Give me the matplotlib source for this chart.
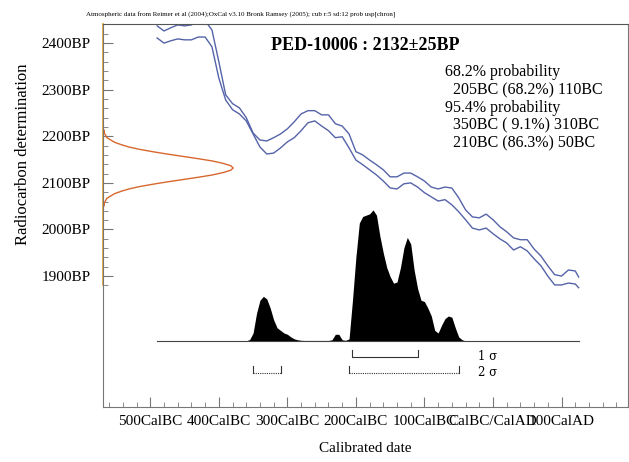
import matplotlib.pyplot as plt

plt.rcParams['font.family'] = ['Liberation Serif', 'DejaVu Serif']

# Calibration curve (year: negative = BC), upper and lower bounds in BP
cal_years = [-490, -480, -470, -460, -450, -440, -430, -420, -410, -400,
             -390, -380, -370, -360, -350, -340, -330, -320, -310, -300,
             -290, -280, -270, -260, -250, -240, -230, -220, -210, -200,
             -190, -180, -170, -160, -150, -140, -130, -120, -110, -100,
             -90, -80, -70, -60, -50, -40, -30, -20, -10, 0,
             10, 20, 30, 40, 50, 60, 70, 80, 90, 100, 110, 120, 125]
cal_upper = [2437, 2426, 2433, 2439, 2437, 2439, 2448, 2448, 2428, 2360,
             2289, 2270, 2261, 2240, 2207, 2192, 2190, 2197, 2205, 2216,
             2231, 2248, 2255, 2255, 2246, 2246, 2227, 2222, 2205, 2167,
             2160, 2149, 2139, 2128, 2113, 2113, 2121, 2121, 2113, 2104,
             2091, 2087, 2091, 2089, 2068, 2042, 2027, 2025, 2033, 2021,
             2006, 1995, 1982, 1978, 1978, 1958, 1943, 1922, 1903, 1900,
             1913, 1911, 1898]
cal_lower = [2411, 2400, 2405, 2409, 2407, 2407, 2413, 2413, 2392, 2325,
             2278, 2257, 2248, 2233, 2205, 2177, 2162, 2164, 2175, 2188,
             2197, 2212, 2229, 2233, 2222, 2212, 2197, 2199, 2175, 2149,
             2139, 2128, 2117, 2104, 2089, 2087, 2098, 2100, 2091, 2079,
             2070, 2061, 2064, 2053, 2038, 2021, 2003, 1999, 2003, 1991,
             1980, 1971, 1956, 1963, 1954, 1937, 1922, 1900, 1881, 1881,
             1885, 1883, 1875]

# Measured radiocarbon date 2132 +/- 25 BP (relative probability)
c14_bp = [2042, 2047, 2052, 2057, 2062, 2067, 2072, 2077, 2082, 2087,
          2092, 2097, 2102, 2107, 2112, 2117, 2122, 2127, 2132, 2137,
          2142, 2147, 2152, 2157, 2162, 2167, 2172, 2177, 2182, 2187,
          2192, 2197, 2202, 2207, 2212, 2217, 2222]
c14_prob = [0.0, 0.0, 0.01, 0.01, 0.02, 0.03, 0.06, 0.09, 0.14, 0.20,
            0.28, 0.38, 0.49, 0.61, 0.73, 0.84, 0.92, 0.98, 1.0, 0.98,
            0.92, 0.84, 0.73, 0.61, 0.49, 0.38, 0.28, 0.20, 0.14, 0.09,
            0.06, 0.03, 0.02, 0.01, 0.01, 0.0, 0.0]

# Calibrated date distribution (relative probability)
dist_years = [-370, -365, -360, -355, -350, -345, -340, -335, -330, -325,
              -320, -315, -310, -305, -300, -295, -290, -285, -280, -275,
              -270, -265, -260, -255, -250, -245, -240, -235, -230, -225,
              -220, -215, -210, -205, -200, -195, -190, -185, -180, -175,
              -170, -165, -160, -155, -150, -145, -140, -135, -130, -125,
              -120, -115, -110, -105, -100, -95, -90, -85, -80, -75,
              -70, -65, -60, -55, -50, -45, -40]
dist_prob = [0.0, 0.0, 0.0, 0.01, 0.06, 0.21, 0.31, 0.34, 0.32, 0.25,
             0.16, 0.10, 0.08, 0.06, 0.05, 0.03, 0.015, 0.008, 0.004, 0.003,
             0.003, 0.003, 0.003, 0.003, 0.003, 0.003, 0.003, 0.008, 0.05, 0.05,
             0.008, 0.004, 0.015, 0.31, 0.64, 0.90, 0.95, 0.96, 0.97, 1.0,
             0.96, 0.80, 0.67, 0.56, 0.49, 0.44, 0.45, 0.56, 0.71, 0.79,
             0.74, 0.54, 0.40, 0.31, 0.30, 0.25, 0.19, 0.08, 0.06, 0.12,
             0.17, 0.19, 0.18, 0.10, 0.03, 0.008, 0.0]

one_sigma = [(-205, -110)]
two_sigma = [(-350, -310), (-210, -50)]

year_ticks = [-500, -400, -300, -200, -100, 0, 100]
year_labels = ['500CalBC', '400CalBC', '300CalBC', '200CalBC', '100CalBC',
               'CalBC/CalAD', '100CalAD']
bp_ticks = [1900, 2000, 2100, 2200, 2300, 2400]
bp_labels = ['1900BP', '2000BP', '2100BP', '2200BP', '2300BP', '2400BP']

title = 'PED-10006 : 2132\u00b125BP'
prob_lines = ['68.2% probability', '  205BC (68.2%) 110BC',
              '95.4% probability', '  350BC ( 9.1%) 310BC',
              '  210BC (86.3%) 50BC']
header = ('Atmospheric data from Reimer et al (2004);OxCal v3.10 Bronk Ramsey (2005); '
          'cub r:5 sd:12 prob usp[chron]')

x0, x1 = -569, 197
y0, y1 = 1619, 2441
dist_base = 1761
dist_height = 281
c14_width = 190

fig = plt.figure(figsize=(6.29, 4.62), dpi=100)
ax = fig.add_axes([103 / 629, 55 / 462, 525 / 629, 383 / 462])
ax.set_xlim(x0, x1)
ax.set_ylim(y0, y1)

blue = '#5563a8'
ax.plot(cal_years, cal_upper, color=blue, lw=1.0)
ax.plot(cal_years, cal_lower, color=blue, lw=1.0)

# radiocarbon date on the y axis
ax.plot([x0 + p * c14_width for p in c14_prob], c14_bp, color='#d8672e', lw=1.0)

# calibrated distribution
ax.plot([cal_years[0], cal_years[-1]], [dist_base, dist_base], color='#444444', lw=0.8)
ax.fill_between(dist_years, dist_base, [dist_base + p * dist_height for p in dist_prob],
                color='black', lw=0)

# sigma ranges
for a, b in one_sigma:
    ax.plot([a, a, b, b], [1742, 1727, 1727, 1742], color='#333333', lw=0.8)
for a, b in two_sigma:
    ax.plot([a, b], [1692, 1692], color='#333333', lw=0.8, ls=(0, (1, 1)))
    ax.plot([a, a], [1692, 1707], color='#333333', lw=0.8)
    ax.plot([b, b], [1692, 1707], color='#333333', lw=0.8)
ax.text(-22, 1727, '1 \u03c3', fontsize=8.5, va='center', ha='left', family='DejaVu Serif')
ax.text(-22, 1692, '2 \u03c3', fontsize=8.5, va='center', ha='left', family='DejaVu Serif')

# axes styling
ax.set_xticks(year_ticks)
ax.set_xticklabels(year_labels)
ax.set_xticks(list(range(-560, 197, 20)), minor=True)
ax.set_yticks(bp_ticks)
ax.set_yticklabels(bp_labels)
ax.set_yticks(list(range(1880, 2441, 20)), minor=True)
ax.tick_params(which='both', direction='in', color='#777777', labelsize=11)
ax.tick_params(which='major', length=7)
ax.tick_params(which='minor', length=3.5)
ax.tick_params(axis='y', pad=9)
ax.tick_params(axis='x', pad=6)

for s in ['left', 'right', 'bottom']:
    ax.spines[s].set_color('#777777')
ax.spines['top'].set_color('#555555')
ax.spines['top'].set_linestyle((0, (2, 1)))
ax.plot([x0, x0], [1880, y1], color='#e3a83c', lw=1.3, clip_on=False)

ax.set_xlabel('Calibrated date', fontsize=11, labelpad=10)
fig.text(23 / 629, 1 - 245 / 462, 'Radiocarbon determination', rotation=90,
         fontsize=12, ha='center', va='bottom')

fig.text(365 / 629, 1 - 45 / 462, title, fontsize=13, fontweight='bold',
         ha='center', va='center')
for i, line in enumerate(prob_lines):
    fig.text(445 / 629, 1 - (72 + 17.9 * i) / 462, line, fontsize=11.5,
             ha='left', va='center')
fig.text(86 / 629, 1 - 15 / 462, header, fontsize=5.0, ha='left', va='center')

fig.savefig('out.png', dpi=100)
